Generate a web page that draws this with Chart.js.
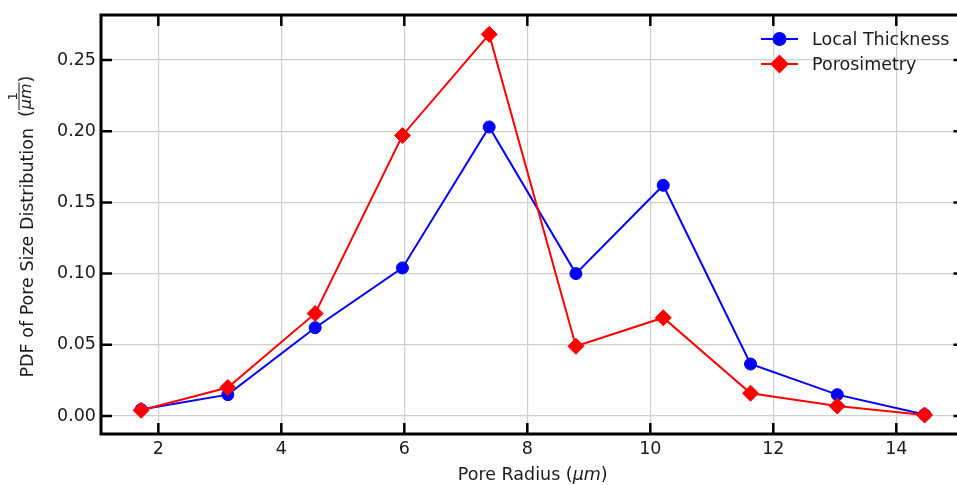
<!DOCTYPE html>
<html>
<head>
<meta charset="utf-8">
<script src="https://cdn.jsdelivr.net/npm/chart.js@4"></script>
<style>
  html, body { margin: 0; padding: 0; background: #fff; overflow: hidden; }
  #wrap { position: relative; width: 957px; height: 485px; overflow: hidden; }
  #poreChart { display: block; }
</style>
</head>
<body>
<!-- 图框右边在可见区域之外，所以画布比窗口略宽 -->
<div id="wrap"><canvas id="poreChart" width="966" height="485"></canvas></div>
<script>
// ======================== 数据 ========================
const poreRadius = [1.72, 3.13, 4.55, 5.97, 7.38, 8.79, 10.21, 11.63, 13.04, 14.46];
const localThickness = [0.0045, 0.015, 0.062, 0.104, 0.203, 0.100, 0.162, 0.0365, 0.015, 0.001];
const porosimetry = [0.004, 0.020, 0.072, 0.197, 0.268, 0.049, 0.069, 0.016, 0.007, 0.0007];
const xTicks = [2, 4, 6, 8, 10, 12, 14];
const yTicks = [0, 0.05, 0.10, 0.15, 0.20, 0.25];
const seriesNames = ['Local Thickness', 'Porosimetry'];

const FONT = '"DejaVu Sans", "Liberation Sans", sans-serif';
const FONT_SIZE = 17.5;
const TEXT_COLOR = '#1a1a1a';

Chart.defaults.font.family = FONT;
Chart.defaults.color = TEXT_COLOR;

// 坐标框、向内刻度、图例和轴标题
const framePlugin = {
    id: 'frame',
    afterDraw(chart) {
        const ctx = chart.ctx;
        const a = chart.chartArea;
        const xs = chart.scales.x;
        const ys = chart.scales.y;
        const tickLen = 11;

        ctx.save();
        ctx.strokeStyle = '#000';
        ctx.lineWidth = 2.5;
        // 刻度
        ctx.beginPath();
        xTicks.forEach(v => {
            const px = xs.getPixelForValue(v);
            ctx.moveTo(px, a.bottom); ctx.lineTo(px, a.bottom - tickLen);
            ctx.moveTo(px, a.top); ctx.lineTo(px, a.top + tickLen);
        });
        yTicks.forEach(v => {
            const py = ys.getPixelForValue(v);
            ctx.moveTo(a.left, py); ctx.lineTo(a.left + tickLen, py);
            ctx.moveTo(a.right, py); ctx.lineTo(a.right - tickLen, py);
        });
        ctx.stroke();
        // 边框
        ctx.lineWidth = 3;
        ctx.strokeRect(a.left, a.top, a.right - a.left, a.bottom - a.top);

        // 图例
        const legend = [
            { name: seriesNames[0], color: '#0000ff', style: 'circle', r: 6, y: 39 },
            { name: seriesNames[1], color: '#ff0000', style: 'rectRot', r: 8, y: 64 }
        ];
        legend.forEach(item => {
            ctx.strokeStyle = item.color;
            ctx.lineWidth = 2;
            ctx.beginPath();
            ctx.moveTo(761, item.y); ctx.lineTo(798, item.y);
            ctx.stroke();
            ctx.fillStyle = item.color;
            Chart.helpers.drawPoint(ctx, { pointStyle: item.style, radius: item.r, borderWidth: 1 }, 779.5, item.y);
            ctx.fill();
            ctx.fillStyle = TEXT_COLOR;
            ctx.font = FONT_SIZE + 'px ' + FONT;
            ctx.textAlign = 'left';
            ctx.textBaseline = 'middle';
            ctx.fillText(item.name, 812, item.y + 1);
        });

        // x 轴标题
        ctx.fillStyle = TEXT_COLOR;
        ctx.textBaseline = 'alphabetic';
        ctx.textAlign = 'left';
        const cx = (a.left + a.right) / 2;
        const parts = [['Pore Radius (', ''], ['μm', 'italic '], [')', '']];
        let total = 0;
        parts.forEach(p => { ctx.font = p[1] + FONT_SIZE + 'px ' + FONT; total += ctx.measureText(p[0]).width; });
        let px = cx - total / 2;
        parts.forEach(p => {
            ctx.font = p[1] + FONT_SIZE + 'px ' + FONT;
            ctx.fillText(p[0], px, 480);
            px += ctx.measureText(p[0]).width;
        });

        // y 轴标题（带分数）
        ctx.translate(33, (a.top + a.bottom) / 2 + 2);
        ctx.rotate(-Math.PI / 2);
        const mainText = 'PDF of Pore Size Distribution';
        ctx.font = FONT_SIZE + 'px ' + FONT;
        const wMain = ctx.measureText(mainText).width;
        const gap = 11;
        const wParen = ctx.measureText('(').width;
        ctx.font = 'italic 16px ' + FONT;
        const wDen = ctx.measureText('μm').width;
        const wFrac = wDen + 2;
        const totalY = wMain + gap + wParen * 2 + wFrac;
        let lx = -totalY / 2;
        ctx.font = FONT_SIZE + 'px ' + FONT;
        ctx.fillText(mainText, lx, 0);
        lx += wMain + gap;
        ctx.fillText('(', lx, -1);
        lx += wParen;
        // 分数
        ctx.font = '13px ' + FONT;
        ctx.textAlign = 'center';
        ctx.fillText('1', lx + wFrac / 2, -16);
        ctx.strokeStyle = TEXT_COLOR;
        ctx.lineWidth = 1;
        ctx.beginPath();
        ctx.moveTo(lx, -14); ctx.lineTo(lx + wFrac, -14);
        ctx.stroke();
        ctx.font = 'italic 16px ' + FONT;
        ctx.fillText('μm', lx + wFrac / 2, -2);
        ctx.textAlign = 'left';
        lx += wFrac;
        ctx.font = FONT_SIZE + 'px ' + FONT;
        ctx.fillText(')', lx, -1);
        ctx.restore();
    }
};

const ctx = document.getElementById('poreChart').getContext('2d');
window.poreChart = new Chart(ctx, {
    type: 'line',
    data: {
        datasets: [
            {
                label: seriesNames[0],
                data: poreRadius.map((x, i) => ({ x: x, y: localThickness[i] })),
                borderColor: '#0000ff',
                backgroundColor: '#0000ff',
                borderWidth: 2,
                pointStyle: 'circle',
                pointRadius: 6,
                pointBorderWidth: 1,
                tension: 0,
                order: 1
            },
            {
                label: seriesNames[1],
                data: poreRadius.map((x, i) => ({ x: x, y: porosimetry[i] })),
                borderColor: '#ff0000',
                backgroundColor: '#ff0000',
                borderWidth: 2,
                pointStyle: 'rectRot',
                pointRadius: 8,
                pointBorderWidth: 1,
                tension: 0,
                order: 0
            }
        ]
    },
    options: {
        responsive: false,
        animation: false,
        devicePixelRatio: 1,
        layout: { autoPadding: false, padding: { top: 15, right: 1.5, left: 0, bottom: 0 } },
        plugins: {
            legend: { display: false },
            tooltip: { enabled: false }
        },
        scales: {
            x: {
                type: 'linear',
                min: 1.068,
                max: 15.109,
                afterBuildTicks(scale) { scale.ticks = xTicks.map(v => ({ value: v })); },
                afterFit(scale) {
                    scale.height = 51;
                    scale.paddingLeft = 0;
                    scale.paddingRight = 0;
                },
                ticks: {
                    font: { size: FONT_SIZE },
                    color: TEXT_COLOR,
                    padding: 5,
                    maxRotation: 0,
                    callback: v => String(v)
                },
                grid: { color: '#cfcfcf', lineWidth: 1.2, drawTicks: false },
                border: { display: false }
            },
            y: {
                type: 'linear',
                min: -0.01264,
                max: 0.2816,
                afterBuildTicks(scale) { scale.ticks = yTicks.map(v => ({ value: v })); },
                afterFit(scale) {
                    scale.width = 101;
                    scale.paddingTop = 0;
                    scale.paddingBottom = 0;
                },
                ticks: {
                    font: { size: FONT_SIZE },
                    color: TEXT_COLOR,
                    padding: 5,
                    callback: v => Number(v).toFixed(2)
                },
                grid: { color: '#cfcfcf', lineWidth: 1.2, drawTicks: false },
                border: { display: false }
            }
        }
    },
    plugins: [framePlugin]
});
</script>
</body>
</html>
